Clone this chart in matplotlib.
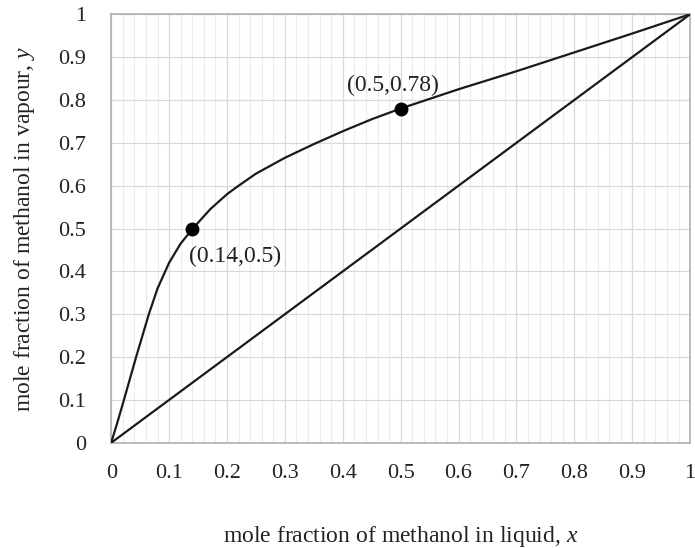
import matplotlib.pyplot as plt
import matplotlib.ticker as mtick

# equilibrium curve
x_liq = [0, 0.011, 0.022, 0.043, 0.065, 0.08, 0.1, 0.12, 0.141, 0.171, 0.2, 0.217,
         0.25, 0.3, 0.35, 0.4, 0.45, 0.5, 0.6, 0.7, 0.8, 0.9, 1.0]
y_vap = [0, 0.049, 0.1, 0.2, 0.3, 0.36, 0.42, 0.465, 0.5, 0.545, 0.58, 0.597,
         0.628, 0.665, 0.697, 0.727, 0.755, 0.78, 0.825, 0.867, 0.911, 0.955, 1.0]

diag = [0, 1]

pts_x = [0.14, 0.5]
pts_y = [0.5, 0.78]
pt_labels = ['(0.14,0.5)', '(0.5,0.78)']

plt.rcParams['font.family'] = ['Liberation Serif', 'DejaVu Serif']
plt.rcParams['mathtext.fontset'] = 'custom'
plt.rcParams['mathtext.rm'] = 'Liberation Serif'
plt.rcParams['mathtext.it'] = 'Liberation Serif:italic'

fig = plt.figure(figsize=(6.95, 5.48), dpi=100)
ax = fig.add_axes([0.16, 0.192, 0.833, 0.782])

ax.plot(x_liq, y_vap, color='#1a1a1a', lw=1.6, zorder=3)
ax.plot(diag, diag, color='#1a1a1a', lw=1.6, zorder=3)
ax.plot(pts_x, pts_y, 'o', color='black', ms=9, zorder=4)

ax.text(0.135, 0.435, pt_labels[0], fontsize=17, va='center', ha='left', color='#222222')
ax.text(0.408, 0.835, pt_labels[1], fontsize=17, va='center', ha='left', color='#222222')

ax.set_xlim(0, 1)
ax.set_ylim(0, 1)
ax.xaxis.set_major_locator(mtick.MultipleLocator(0.1))
ax.yaxis.set_major_locator(mtick.MultipleLocator(0.1))
ax.xaxis.set_minor_locator(mtick.MultipleLocator(0.02))
fmt = mtick.FuncFormatter(lambda v, _: '%g' % round(v, 2))
ax.xaxis.set_major_formatter(fmt)
ax.yaxis.set_major_formatter(fmt)

ax.grid(which='major', color='#d9d9d9', lw=0.9)
ax.grid(which='minor', axis='x', color='#ececec', lw=0.8)
ax.set_axisbelow(True)

for s in ax.spines.values():
    s.set_color('#b0b0b0')
    s.set_linewidth(1.2)

ax.tick_params(which='both', length=0, labelsize=16, labelcolor='#222222')
ax.tick_params(axis='x', pad=15)
ax.tick_params(axis='y', pad=18)

ax.set_xlabel('mole fraction of methanol in liquid, $\\it{x}$', fontsize=17, color='#222222', va='center')
ax.set_ylabel('mole fraction of methanol in vapour, $\\it{y}$', fontsize=17, color='#222222', va='center')
ax.xaxis.set_label_coords(0.5, -0.218)
ax.yaxis.set_label_coords(-0.1505, 0.5)

fig.savefig('out.png', dpi=100)
